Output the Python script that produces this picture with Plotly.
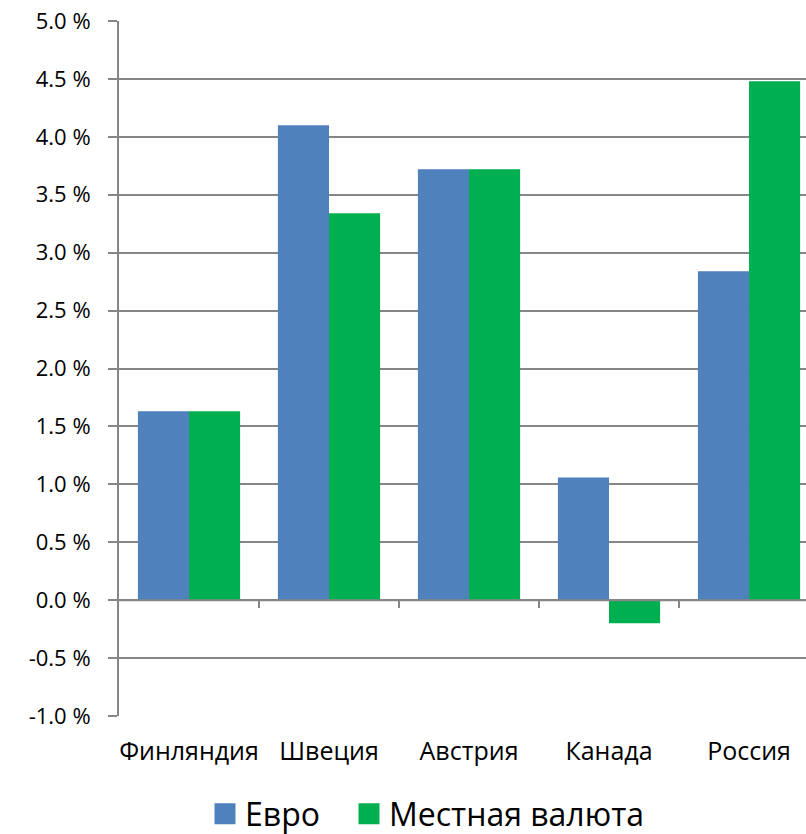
import plotly.graph_objects as go

categories = ["Финляндия", "Швеция", "Австрия", "Канада", "Россия"]
euro = [1.63, 4.10, 3.72, 1.06, 2.84]
local = [1.63, 3.34, 3.72, -0.20, 4.48]
series_names = ["Евро", "Местная валюта"]
series_colors = ["#4F81BD", "#00B050"]
y_ticks = [-1.0, -0.5, 0.0, 0.5, 1.0, 1.5, 2.0, 2.5, 3.0, 3.5, 4.0, 4.5, 5.0]
y_tick_labels = ["%.1f %%" % v for v in y_ticks]
boundaries = [0.5, 1.5, 2.5, 3.5, 4.5]

FONT = "Open Sans"
GRID = "#868686"

fig = go.Figure()
for name, vals, col in zip(series_names, [euro, local], series_colors):
    fig.add_bar(x=categories, y=vals, name=name, marker_color=col,
                marker_line_width=0, showlegend=False)
# legend entries with larger square swatches, one legend per entry
for name, col, lg in zip(series_names, series_colors, ["legend", "legend2"]):
    fig.add_scatter(x=[None], y=[None], mode="markers", name=name, legend=lg,
                    marker=dict(symbol="square", size=16, color=col,
                                line=dict(color=col, width=5)))
# zero line with category boundary ticks
fig.add_scatter(x=[-0.5, 4.5], y=[0, 0], xaxis="x2", mode="lines",
                line=dict(color=GRID, width=2), showlegend=False, hoverinfo="skip")

legend_common = dict(
    orientation="h", xanchor="left", xref="container",
    yref="container", y=0.024, yanchor="middle",
    font=dict(size=32, family=FONT), itemwidth=30,
)

fig.update_layout(
    width=806, height=834,
    margin=dict(l=119, r=0, t=21, b=118, autoexpand=False),
    paper_bgcolor="white", plot_bgcolor="white",
    barmode="group", bargap=0.27, bargroupgap=0,
    font=dict(family=FONT, color="black"),
    xaxis=dict(
        type="category", range=[-0.5, 4.407], automargin=False,
        showgrid=False, showline=False, ticks="",
        tickfont=dict(size=25, family=FONT), ticklabelstandoff=18,
    ),
    xaxis2=dict(
        overlaying="x", anchor="free", position=1/6, automargin=False,
        range=[-0.5, 4.407], tickmode="array", tickvals=boundaries,
        showticklabels=False, ticks="outside", ticklen=7, tickwidth=2,
        tickcolor=GRID, showline=False, showgrid=False, zeroline=False,
    ),
    yaxis=dict(
        range=[-1.0, 5.0], tickmode="array", tickvals=y_ticks, ticktext=y_tick_labels,
        automargin=False,
        showgrid=True, gridcolor=GRID, gridwidth=2,
        showline=True, linecolor=GRID, linewidth=2,
        ticks="outside", ticklen=9, tickcolor=GRID, tickwidth=2,
        zeroline=False, tickfont=dict(size=22, family=FONT), ticklabelstandoff=13,
    ),
    legend=dict(x=205 / 806, **legend_common),
    legend2=dict(x=349 / 806, **legend_common),
)

fig.write_html("out.html", config={"displayModeBar": False},
               post_script="document.body.style.margin='0';document.body.style.overflow='hidden';")
